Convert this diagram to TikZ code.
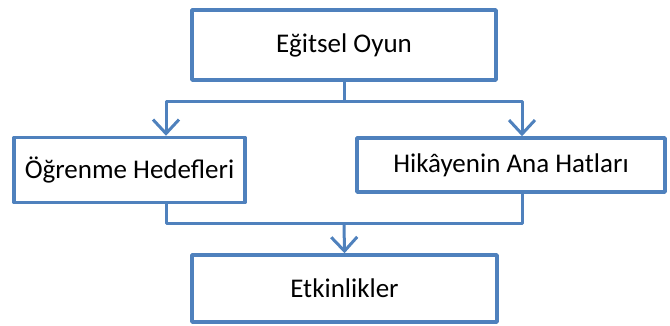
\documentclass[tikz,border=0pt]{standalone}
\usepackage{fontspec}
\setmainfont{Carlito}
\usetikzlibrary{arrows.meta}
\definecolor{obl}{RGB}{79,129,189}
\begin{document}
\begin{tikzpicture}[x=1pt,y=-1pt,
  box/.style={draw=obl,line width=3.5pt,line join=round,rectangle,inner sep=0pt,
    font=\fontsize{27}{30}\selectfont,text=black},
  conn/.style={draw=obl,line width=3pt,line join=round},
  arr/.style={conn,-{Straight Barb[length=14pt,width=26pt,line width=3pt]}}]
\useasboundingbox (0,0) rectangle (670,325);
\node[box,minimum width=304pt,minimum height=70pt] (top) at (344,45) {Eğitsel Oyun};
\node[box,minimum width=231pt,minimum height=65pt] (left) at (129.5,170) {Öğrenme Hedefleri};
\node[box,minimum width=308pt,minimum height=54pt] (right) at (511,165) {Hikâyenin Ana Hatları};
\node[box,minimum width=305pt,minimum height=67pt] (bot) at (344.5,288.5) {Etkinlikler};
\coordinate (j1) at (344,101);
\coordinate (j2) at (344,223);
\draw[conn] (top.south) -- (j1);
\draw[arr] (j1) -| (left.north -| 166,0);
\draw[arr] (j1) -| (right.north -| 522,0);
\draw[conn] (left.south -| 166,0) |- (j2);
\draw[conn] (right.south -| 522,0) |- (j2);
\draw[arr] (j2) -- (bot.north);
\end{tikzpicture}
\end{document}
